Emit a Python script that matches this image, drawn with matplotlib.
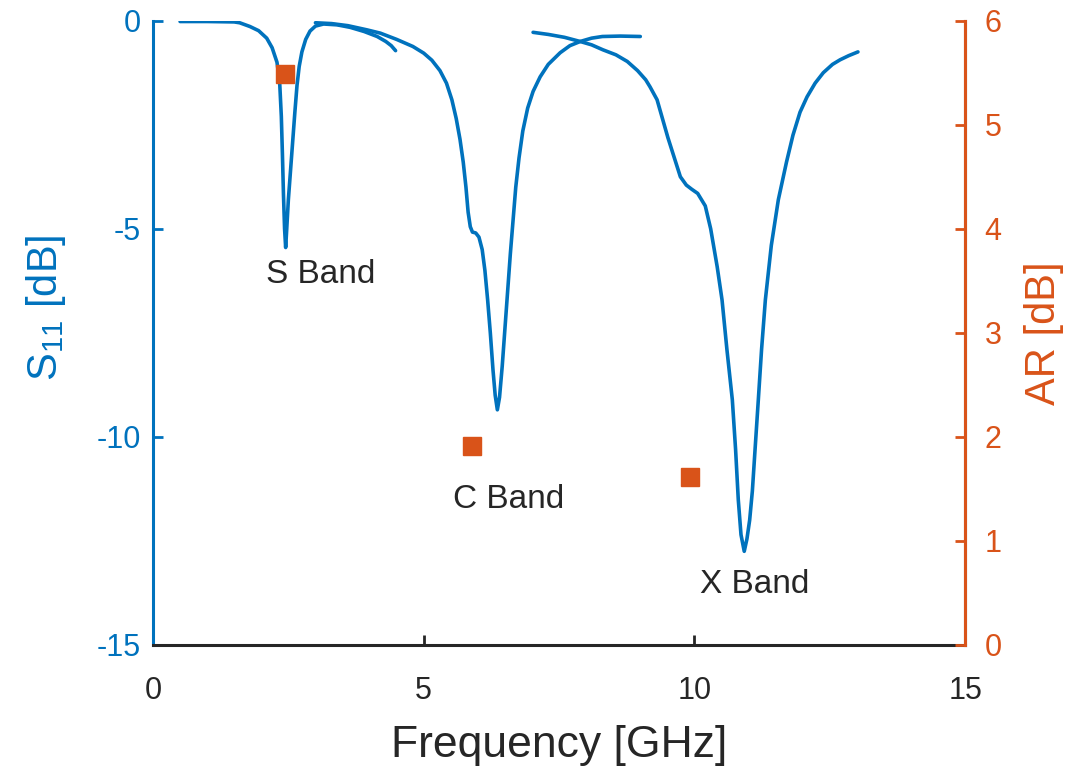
import numpy as np
import matplotlib.pyplot as plt

plt.rcParams['font.family'] = ['Liberation Sans', 'DejaVu Sans']
plt.rcParams['mathtext.fontset'] = 'custom'
plt.rcParams['mathtext.rm'] = 'Liberation Sans'
plt.rcParams['axes.unicode_minus'] = False

blue = '#0072BD'
orange = '#D95319'
dark = '#262626'

# S11 sweeps, measured in three overlapping frequency windows
f_s = [0.5, 1.0, 1.5, 1.6, 1.79, 1.95, 2.1, 2.2, 2.29, 2.34, 2.37, 2.39, 2.41,
       2.43, 2.45, 2.47, 2.5, 2.54, 2.58, 2.62, 2.66, 2.7, 2.75, 2.82, 2.9,
       3.0, 3.15, 3.4, 3.64, 3.9, 4.14, 4.3, 4.4, 4.48]
s11_s = [-0.02, -0.02, -0.03, -0.05, -0.14, -0.24, -0.42, -0.65, -1.0, -1.5,
         -2.3, -3.2, -4.2, -5.0, -5.45, -5.0, -4.3, -3.6, -2.9, -2.2, -1.55,
         -1.1, -0.75, -0.45, -0.25, -0.13, -0.08, -0.1, -0.16, -0.26, -0.38,
         -0.5, -0.6, -0.72]

f_c = [3.0, 3.3, 3.6, 3.95, 4.2, 4.5, 4.8, 5.0, 5.15, 5.3, 5.42, 5.52, 5.6,
       5.67, 5.73, 5.78, 5.82, 5.86, 5.9, 5.96, 6.02, 6.08, 6.13, 6.18, 6.23,
       6.28, 6.32, 6.36, 6.4, 6.45, 6.5, 6.55, 6.6, 6.65, 6.7, 6.76, 6.83,
       6.92, 7.02, 7.15, 7.3, 7.52, 7.7, 7.89, 8.1, 8.3, 8.63, 9.0]
s11_c = [-0.05, -0.07, -0.12, -0.22, -0.3, -0.45, -0.62, -0.78, -0.95, -1.2,
         -1.5, -1.9, -2.35, -2.85, -3.4, -4.0, -4.6, -4.95, -5.08, -5.1, -5.2,
         -5.5, -6.0, -6.7, -7.5, -8.4, -9.0, -9.35, -9.05, -8.3, -7.4, -6.5,
         -5.6, -4.8, -4.0, -3.3, -2.65, -2.1, -1.7, -1.35, -1.05, -0.77, -0.6,
         -0.5, -0.42, -0.38, -0.37, -0.38]

f_x = [7.02, 7.3, 7.6, 7.89, 8.1, 8.31, 8.55, 8.76, 8.95, 9.1, 9.18, 9.31,
       9.51, 9.74, 9.85, 9.95, 10.06, 10.2, 10.3, 10.42, 10.51, 10.6, 10.7,
       10.76, 10.81, 10.86, 10.92, 10.97, 11.02, 11.07, 11.12, 11.18, 11.24,
       11.31, 11.42, 11.55, 11.7, 11.82, 11.95, 12.08, 12.23, 12.38, 12.55,
       12.69, 12.85, 13.02]
s11_x = [-0.28, -0.33, -0.4, -0.5, -0.58, -0.7, -0.82, -0.98, -1.2, -1.42,
         -1.59, -1.9, -2.81, -3.75, -3.95, -4.05, -4.15, -4.45, -5.0, -5.91,
         -6.71, -7.9, -9.11, -10.3, -11.51, -12.35, -12.75, -12.45, -12.0,
         -11.3, -10.3, -9.11, -7.9, -6.71, -5.4, -4.3, -3.4, -2.75, -2.2,
         -1.83, -1.5, -1.25, -1.05, -0.94, -0.84, -0.75]

# axial ratio at the band centres
f_ar = [2.44, 5.89, 9.92]
ar = [5.49, 1.91, 1.61]

bands = ['S Band', 'C Band', 'X Band']
band_x = [3.1, 6.56, 11.12]
band_y = [-6.1, -11.5, -13.55]

fig = plt.figure(figsize=(10.7, 7.66), dpi=100)
ax = fig.add_axes([0.143, 0.158, 0.759, 0.815])
ax2 = ax.twinx()

for f, s in [(f_s, s11_s), (f_c, s11_c), (f_x, s11_x)]:
    ax.plot(f, s, color=blue, lw=2.6, solid_joinstyle='round',
            solid_capstyle='round')

ax2.plot(f_ar, ar, 's', color=orange, ms=13, mec=orange)

for t, x, y in zip(bands, band_x, band_y):
    ax.text(x, y, t, ha='center', va='center', fontsize=24, color=dark)

ax.set_xlim(0, 15)
ax.set_ylim(-15, 0)
ax2.set_ylim(0, 6)
ax.set_xticks([0, 5, 10, 15])
ax.set_yticks([-15, -10, -5, 0])
ax2.set_yticks(range(7))

for a in (ax, ax2):
    a.spines['top'].set_visible(False)
    for sp in a.spines.values():
        sp.set_linewidth(2.2)
ax.spines['left'].set_color(blue)
ax.spines['bottom'].set_color(dark)
ax2.spines['right'].set_color(orange)
ax2.spines['left'].set_visible(False)
ax2.spines['bottom'].set_visible(False)

ax.tick_params(axis='x', direction='in', length=7, width=2, colors=dark,
               labelsize=22, pad=22)
ax.tick_params(axis='y', direction='in', length=7, width=2, colors=blue,
               labelsize=22, pad=9)
ax2.tick_params(axis='y', direction='in', length=7, width=2, colors=orange,
                labelsize=22, pad=14)

ax.set_xlabel('Frequency [GHz]', fontsize=32, color=dark, labelpad=14)
ax.set_ylabel('S$_{\\mathregular{11}}$ [dB]', fontsize=30, color=blue)
ax.yaxis.set_label_coords(-0.105, 0.54)
ax2.set_ylabel('AR [dB]', fontsize=30, color=orange, labelpad=16)

fig.savefig('out.png', dpi=100)
